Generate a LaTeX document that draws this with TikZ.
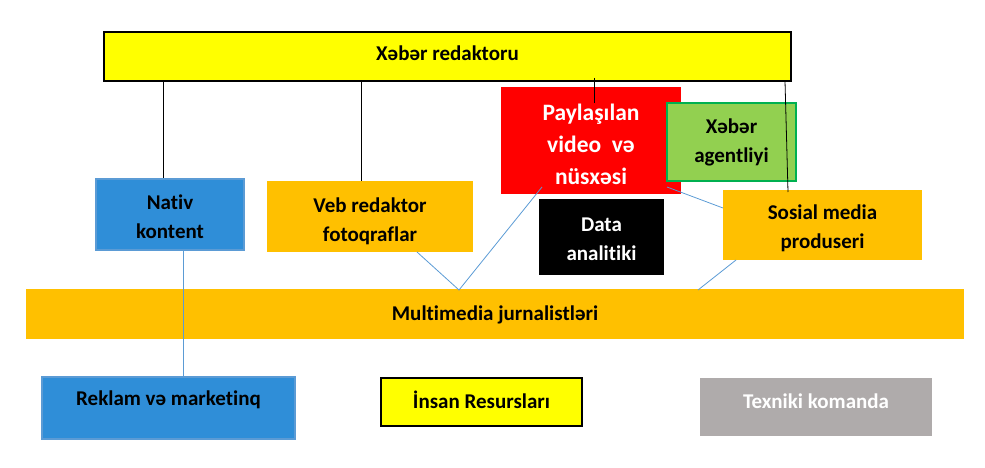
\documentclass[tikz,border=0pt]{standalone}
\usepackage{fontspec}
\setmainfont{Carlito}[Ligatures=NoCommon]
\definecolor{cyel}{RGB}{255,255,0}
\definecolor{cred}{RGB}{255,0,0}
\definecolor{cgreenf}{RGB}{146,208,80}
\definecolor{cgreenb}{RGB}{0,176,80}
\definecolor{corange}{RGB}{255,192,0}
\definecolor{cbluef}{RGB}{47,142,216}
\definecolor{cblueb}{RGB}{91,155,213}
\definecolor{cgray}{RGB}{175,171,171}
\newcommand{\strt}[1]{\rule{0pt}{#1}}
\newcommand{\oneline}[2]{\raisebox{#1}[0pt][0pt]{#2}}
\tikzset{
  box/.style={rectangle, inner sep=0pt, align=center,
    font=\fontsize{21}{29}\selectfont\bfseries},
  blk/.style={draw=black, line width=0.8pt},
  lnk/.style={draw=cblueb, line width=0.8pt},
}
\begin{document}
\begin{tikzpicture}[x=1pt,y=-1pt]
\useasboundingbox (0,0) rectangle (985,468);
% boxes
\node[box, fill=cyel, draw=black, line width=2.5pt, minimum width=687pt, minimum height=49pt] (top) at (447.5,56.5) {\oneline{-4.5pt}{Xəbər redaktoru}};
\node[box, fill=cred, text=white, minimum width=180pt, minimum height=107pt, font=\fontsize{23.5}{32}\selectfont\bfseries] (red) at (591,140.5) {\strt{24.5pt}Paylaşılan\\video\ \ və\\nüsxəsi};
\node[box, fill=cgreenf, draw=cgreenb, line width=2.5pt, minimum width=129pt, minimum height=78pt] (green) at (731.5,142) {Xəbər\\agentliyi};
\node[box, fill=corange, minimum width=199pt, minimum height=70pt] (sosial) at (822.5,225) {\strt{22pt}Sosial media\\produseri};
\node[box, fill=black, text=white, minimum width=125pt, minimum height=76pt] (data) at (601.5,237) {\strt{19pt}Data\\analitiki};
\node[box, fill=cbluef, draw=cblueb, line width=2pt, minimum width=148pt, minimum height=71pt] (nativ) at (170,214.5) {\strt{20pt}Nativ\\kontent};
\node[box, fill=corange, minimum width=206pt, minimum height=71pt] (veb) at (370,216.5) {\strt{24pt}Veb redaktor\\fotoqraflar};
\node[box, fill=corange, minimum width=938pt, minimum height=50pt] (multi) at (495,314) {\oneline{-6pt}{Multimedia jurnalistləri}};
\node[box, fill=cbluef, draw=cblueb, line width=2pt, minimum width=253pt, minimum height=62pt] (reklam) at (168.5,408) {\oneline{2.5pt}{Reklam və marketinq}};
\node[box, fill=cyel, draw=black, line width=2pt, minimum width=201pt, minimum height=48pt] (insan) at (481.5,402) {\oneline{-6pt}{İnsan Resursları}};
\node[box, fill=cgray, text=white, minimum width=232pt, minimum height=58pt] (tex) at (816,407) {\oneline{-1pt}{Texniki komanda}};
% connector end points
\coordinate (t1) at (163,81);  \coordinate (n1) at (163,178);
\coordinate (t2) at (361,81);  \coordinate (v1) at (361,181);
\coordinate (t3) at (594,78);  \coordinate (r1) at (594,103);
\coordinate (t4) at (785,81);  \coordinate (s1) at (788,192);
\coordinate (n2) at (183,251); \coordinate (k1) at (183,376);
\coordinate (v2) at (417,252); \coordinate (m1) at (459,290);
\coordinate (r2) at (542,187);
\coordinate (r3) at (667,187); \coordinate (s2) at (723,208);
\coordinate (s3) at (736,260); \coordinate (m2) at (698,290);
% black connectors
\draw[blk] (t1) -- (n1);
\draw[blk] (t2) -- (v1);
\draw[blk] (t3) -- (r1);
\draw[blk] (t4) -- (s1);
% blue connectors
\draw[lnk] (n2) -- (k1);
\draw[lnk] (v2) -- (m1) -- (r2);
\draw[lnk] (r3) -- (s2);
\draw[lnk] (s3) -- (m2);
\end{tikzpicture}
\end{document}
